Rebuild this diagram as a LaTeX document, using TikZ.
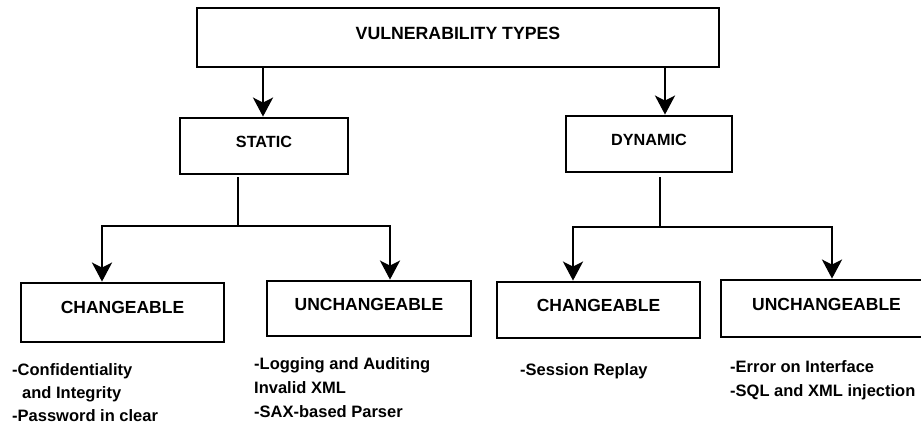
\documentclass[tikz,border=0pt]{standalone}
\usepackage{fontspec}
\setmainfont{Liberation Sans}
\usetikzlibrary{arrows.meta}
\begin{document}
\begin{tikzpicture}[x=1pt,y=-1pt,
  box/.style={draw, line width=2.8pt, inner sep=0pt},
  lbl/.style={font=\bfseries\fontsize{#1}{#1}\selectfont, inner sep=0pt},
  ln/.style={line width=2.8pt},
  arr/.style={line width=2.8pt, -{Stealth[length=19pt,width=20pt,inset=5pt]}},
  item/.style={font=\bfseries\fontsize{16.5}{#1}\selectfont, align=left, anchor=base west, inner sep=0pt}]
\useasboundingbox (0,0) rectangle (921,423);

\node[box, minimum width=522pt, minimum height=59pt,
  label={[lbl=17.7, yshift=4.5pt]center:VULNERABILITY TYPES}] (top) at (458,37.5) {};
\node[box, minimum width=168pt, minimum height=56pt,
  label={[lbl=16.2, yshift=4pt]center:STATIC}] (static) at (264,146) {};
\node[box, minimum width=166pt, minimum height=56pt,
  label={[lbl=16.2, yshift=4pt]center:DYNAMIC}] (dynamic) at (649,144) {};
\node[box, minimum width=203pt, minimum height=59pt,
  label={[lbl=17.5, yshift=5.5pt]center:CHANGEABLE}] (sc) at (122.5,312.5) {};
\node[box, minimum width=204pt, minimum height=55pt,
  label={[lbl=17.5, yshift=4.5pt]center:UNCHANGEABLE}] (su) at (369,308.5) {};
\node[box, minimum width=203pt, minimum height=56pt,
  label={[lbl=17.5, yshift=5pt]center:CHANGEABLE}] (dc) at (598.5,310) {};
\node[box, minimum width=205pt, minimum height=57pt,
  label={[lbl=17.5, yshift=4.5pt, xshift=3pt]center:UNCHANGEABLE}] (du) at (823.5,308.5) {};

\coordinate (stin) at ([xshift=-1pt]static.north);
\coordinate (dyin) at ([xshift=16pt]dynamic.north);
\draw[arr] (top.south -| stin) -- (stin);
\draw[arr] (top.south -| dyin) -- (dyin);

\coordinate (sj) at (238,226);
\draw[ln, shorten <=2pt] (static.south -| sj) -- (sj);
\draw[arr] (sj) -| ([xshift=-20.5pt]sc.north);
\draw[arr] (sj) -| ([xshift=21pt]su.north);

\coordinate (dj) at (660,227);
\draw[ln, shorten <=4pt] (dynamic.south -| dj) -- (dj);
\draw[arr] (dj) -| ([xshift=-25.5pt]dc.north);
\draw[arr] (dj) -| ([xshift=8.5pt]du.north);

\node[item=23] (t1) at (12,421) {-Confidentiality\\\hspace*{10pt}and Integrity\\-Password in clear};
\node[item=24] (t2) at (254,417) {-Logging and Auditing\\Invalid XML\\-SAX-based Parser};
\node[item=24] (t3) at (520,375) {-Session Replay};
\node[item=24] (t4) at (730,396) {-Error on Interface\\-SQL and XML injection};
\end{tikzpicture}
\end{document}
